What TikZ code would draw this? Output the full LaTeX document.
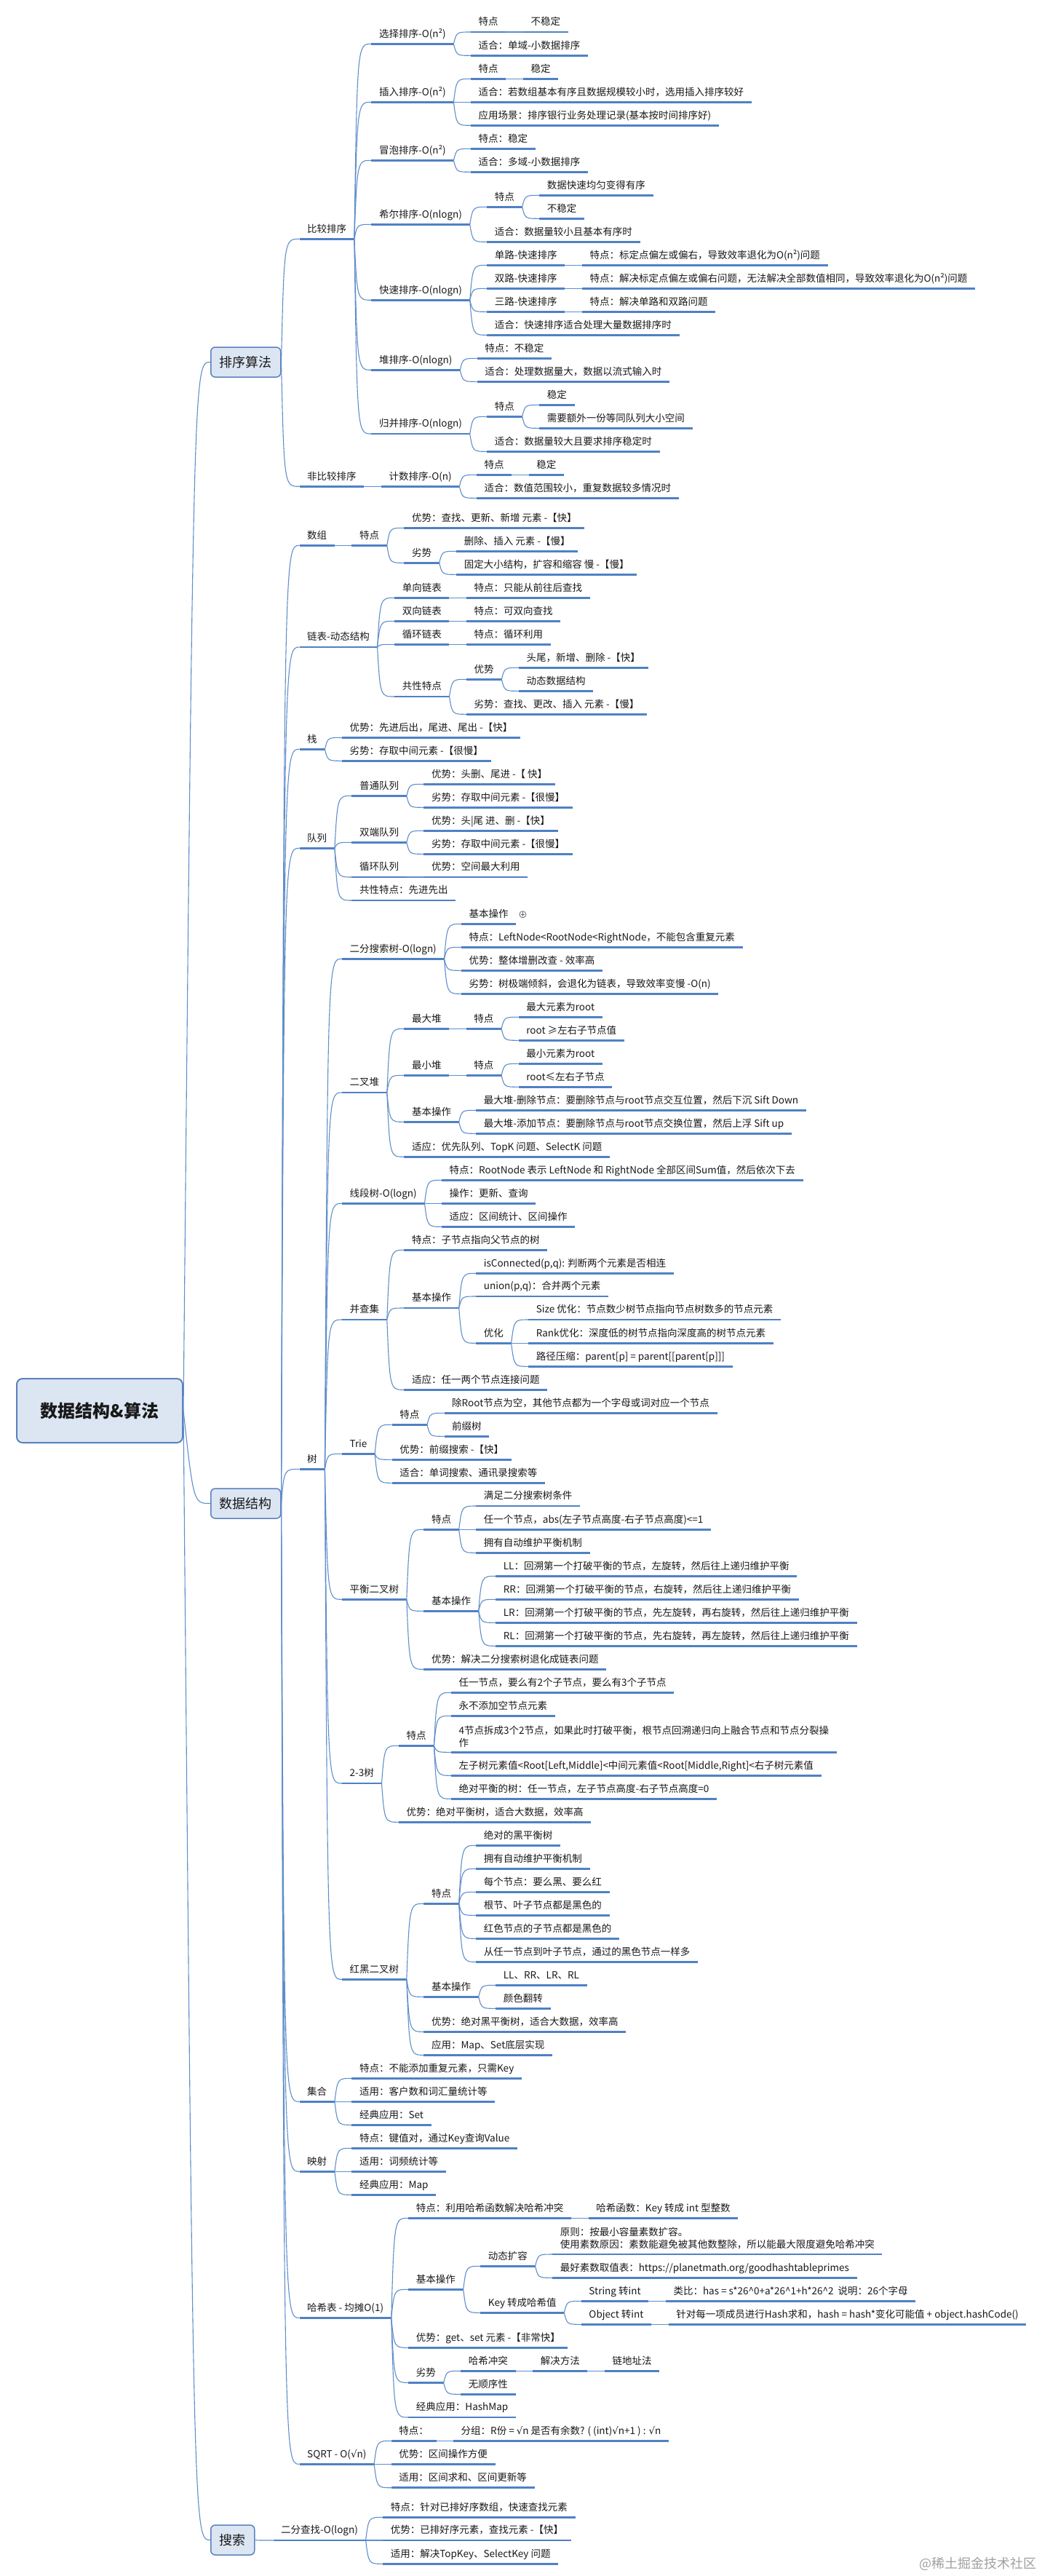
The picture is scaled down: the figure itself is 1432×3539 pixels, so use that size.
\documentclass[tikz,border=0pt]{standalone}
\usepackage{fontspec}
\setmainfont{Noto Sans CJK SC}
\newfontfamily\symf{DejaVu Sans}
\newcommand\rt{{\symf\char"221A}}
\usetikzlibrary{calc}
\definecolor{ulc}{RGB}{79,129,196}
\definecolor{cnc}{RGB}{96,142,202}
\definecolor{boxfill}{RGB}{220,230,243}
\definecolor{boxdraw}{RGB}{90,130,190}
\definecolor{txt}{RGB}{25,25,25}
% child of an underlined node: name, parent, y, text
\newcommand\N[4]{%
  \node[nd,xshift=23.5pt] (#1) at (#2.south east |- 0,#3) {#4};
  \draw[ul] (#1.south west) -- (#1.south east);
  \draw[cn] (#2.south east) .. controls ($(#2.south east |- #1.south west)+(4,0)$) .. (#1.south west);}
% two-line child
\newcommand\NN[4]{%
  \node[ndtwo,xshift=23.5pt] (#1) at (#2.south east |- 0,#3) {#4};
  \draw[ul] (#1.south west) -- (#1.south east);
  \draw[cn] (#2.south east) .. controls ($(#2.south east |- #1.south west)+(4,0)$) .. (#1.south west);}
% child of a box
\newcommand\B[4]{%
  \node[nd,xshift=25pt] (#1) at (#2.east |- 0,#3) {#4};
  \draw[ul] (#1.south west) -- (#1.south east);
  \draw[cn] (#2.east) .. controls ($(#2.east |- #1.south west)+(4,0)$) .. (#1.south west);}
\begin{document}
\begin{tikzpicture}[x=1pt,y=-1pt,
  base/.style={anchor=south west, inner xsep=10.5pt, inner ysep=6.5pt, text=txt,
    font=\fontsize{13.5}{17.5}\selectfont},
  nd/.style={base, text height=10.5pt, text depth=2.5pt},
  ndtwo/.style={base, align=left},
  ul/.style={draw=ulc, line width=2.5pt},
  cn/.style={draw=cnc, line width=1.1pt},
  l1box/.style={draw=boxdraw, fill=boxfill, line width=1.5pt, rounded corners=6pt,
    minimum height=41pt, inner xsep=12pt, text=txt, font=\fontsize{18}{20}\selectfont},
  rootbox/.style={draw=boxdraw, fill=boxfill, line width=2pt, rounded corners=8pt,
    minimum width=228pt, minimum height=88pt, text=txt, font=\fontsize{24}{28}\selectfont\bfseries},
  plusic/.style={circle, draw=gray!80!black, line width=0.8pt, minimum size=9pt, inner sep=0pt}]
\fill[white] (0,0) rectangle (1432,3539);
\useasboundingbox (0,0) rectangle (1432,3539);

% root and first level
\node[rootbox] (root) at (137,1938) {数据结构\&算法};
\node[l1box, anchor=west] (sort) at (289,497.5) {排序算法};
\node[l1box, anchor=west] (ds) at (289,2065.5) {数据结构};
\node[l1box, anchor=west] (search) at (289,3489.5) {搜索};
\draw[cn] (root.east) .. controls ($(root.east |- sort.west)+(14,0)$) .. (sort.west);
\draw[cn] (root.east) .. controls ($(root.east |- ds.west)+(14,0)$) .. (ds.west);
\draw[cn] (root.east) .. controls ($(root.east |- search.west)+(14,0)$) .. (search.west);

% ===== 排序算法 =====
\B{s1}{sort}{328.3}{比较排序}
\N{s11}{s1}{60.3}{选择排序-O(n²)}
\N{s111}{s11}{44}{特点}
\N{s1111}{s111}{44}{不稳定}
\N{s112}{s11}{76.3}{适合：单域-小数据排序}
\N{s12}{s1}{140.3}{插入排序-O(n²)}
\N{s121}{s12}{108.3}{特点}
\N{s1211}{s121}{108.3}{稳定}
\N{s122}{s12}{140.3}{适合：若数组基本有序且数据规模较小时，选用插入排序较好}
\N{s123}{s12}{172.3}{应用场景：排序银行业务处理记录(基本按时间排序好)}
\N{s13}{s1}{220.3}{冒泡排序-O(n²)}
\N{s131}{s13}{204.3}{特点：稳定}
\N{s132}{s13}{236.3}{适合：多域-小数据排序}
\N{s14}{s1}{308.3}{希尔排序-O(nlogn)}
\N{s141}{s14}{284.3}{特点}
\N{s1411}{s141}{268.3}{数据快速均匀变得有序}
\N{s1412}{s141}{300.3}{不稳定}
\N{s142}{s14}{332.3}{适合：数据量较小且基本有序时}
\N{s15}{s1}{412.3}{快速排序-O(nlogn)}
\N{s151}{s15}{364.3}{单路-快速排序}
\N{s1511}{s151}{364.3}{特点：标定点偏左或偏右，导致效率退化为O(n²)问题}
\N{s152}{s15}{396.3}{双路-快速排序}
\N{s1521}{s152}{396.3}{特点：解决标定点偏左或偏右问题，无法解决全部数值相同，导致效率退化为O(n²)问题}
\N{s153}{s15}{428.3}{三路-快速排序}
\N{s1531}{s153}{428.3}{特点：解决单路和双路问题}
\N{s154}{s15}{460.3}{适合：快速排序适合处理大量数据排序时}
\N{s16}{s1}{508.3}{堆排序-O(nlogn)}
\N{s161}{s16}{492.3}{特点：不稳定}
\N{s162}{s16}{524.3}{适合：处理数据量大，数据以流式输入时}
\N{s17}{s1}{596}{归并排序-O(nlogn)}
\N{s171}{s17}{572.3}{特点}
\N{s1711}{s171}{556.3}{稳定}
\N{s1712}{s171}{588.3}{需要额外一份等同队列大小空间}
\N{s172}{s17}{620.3}{适合：数据量较大且要求排序稳定时}
\B{s2}{sort}{668.3}{非比较排序}
\N{s21}{s2}{668.3}{计数排序-O(n)}
\N{s211}{s21}{652.3}{特点}
\N{s2111}{s211}{652.3}{稳定}
\N{s212}{s21}{684.3}{适合：数值范围较小，重复数据较多情况时}

% ===== 数据结构 =====
\B{d1}{ds}{749.3}{数组}
\N{d11}{d1}{749.3}{特点}
\N{d111}{d11}{725.3}{优势：查找、更新、新增 元素 -【快】}
\N{d112}{d11}{773.3}{劣势}
\N{d1121}{d112}{757.3}{删除、插入 元素 -【慢】}
\N{d1122}{d112}{789.3}{固定大小结构，扩容和缩容 慢 -【慢】}
\B{d2}{ds}{889}{链表-动态结构}
\N{d21}{d2}{821.3}{单向链表}
\N{d211}{d21}{821.3}{特点：只能从前往后查找}
\N{d22}{d2}{853.3}{双向链表}
\N{d221}{d22}{853.3}{特点：可双向查找}
\N{d23}{d2}{885.3}{循环链表}
\N{d231}{d23}{885.3}{特点：循环利用}
\N{d24}{d2}{957}{共性特点}
\N{d241}{d24}{933.3}{优势}
\N{d2411}{d241}{917.3}{头尾，新增、删除 -【快】}
\N{d2412}{d241}{949.3}{动态数据结构}
\N{d242}{d24}{981.3}{劣势：查找、更改、插入 元素 -【慢】}
\B{d3}{ds}{1029.3}{栈}
\N{d31}{d3}{1013.3}{优势：先进后出，尾进、尾出 -【快】}
\N{d32}{d3}{1045.3}{劣势：存取中间元素 -【很慢】}
\B{d4}{ds}{1165.3}{队列}
\N{d41}{d4}{1093.3}{普通队列}
\N{d411}{d41}{1077.3}{优势：头删、尾进 -【 快】}
\N{d412}{d41}{1109.3}{劣势：存取中间元素 -【很慢】}
\N{d42}{d4}{1157.3}{双端队列}
\N{d421}{d42}{1141.3}{优势：头|尾 进、删 -【快】}
\N{d422}{d42}{1173.3}{劣势：存取中间元素 -【很慢】}
\N{d43}{d4}{1205}{循环队列}
\N{d431}{d43}{1205}{优势：空间最大利用}
\N{d44}{d4}{1237}{共性特点：先进先出}

\B{d5}{ds}{2018.3}{树}
\N{t1}{d5}{1317.3}{二分搜索树-O(logn)}
\N{t11}{t1}{1269.3}{基本操作}
\node[plusic] (t11p) at ($(t11.south east)+(9,-13)$) {};
\draw[gray!80!black, line width=0.8pt] ([xshift=2pt]t11p.west) -- ([xshift=-2pt]t11p.east)
  ([yshift=-2pt]t11p.north) -- ([yshift=2pt]t11p.south);
\N{t12}{t1}{1301.3}{特点：LeftNode<RootNode<RightNode，不能包含重复元素}
\N{t13}{t1}{1333.3}{优势：整体增删改查 - 效率高}
\N{t14}{t1}{1365.3}{劣势：树极端倾斜，会退化为链表，导致效率变慢 -O(n)}
\N{t2}{d5}{1501}{二叉堆}
\N{t21}{t2}{1413.3}{最大堆}
\N{t211}{t21}{1413.3}{特点}
\N{t2111}{t211}{1397.3}{最大元素为root}
\N{t2112}{t211}{1429.3}{root ≥左右子节点值}
\N{t22}{t2}{1477.3}{最小堆}
\N{t221}{t22}{1477.3}{特点}
\N{t2211}{t221}{1461.3}{最小元素为root}
\N{t2212}{t221}{1493.3}{root≤左右子节点}
\N{t23}{t2}{1541.3}{基本操作}
\N{t231}{t23}{1525.3}{最大堆-删除节点：要删除节点与root节点交互位置，然后下沉 Sift Down}
\N{t232}{t23}{1557.3}{最大堆-添加节点：要删除节点与root节点交换位置，然后上浮 Sift up}
\N{t24}{t2}{1589.3}{适应：优先队列、TopK 问题、SelectK 问题}
\N{t3}{d5}{1653.3}{线段树-O(logn)}
\N{t31}{t3}{1621.3}{特点：RootNode 表示 LeftNode 和 RightNode 全部区间Sum值，然后依次下去}
\N{t32}{t3}{1653.3}{操作：更新、查询}
\N{t33}{t3}{1685.3}{适应：区间统计、区间操作}
\N{t4}{d5}{1813}{并查集}
\N{t41}{t4}{1717.3}{特点：子节点指向父节点的树}
\N{t42}{t4}{1797}{基本操作}
\N{t421}{t42}{1749.3}{isConnected(p,q): 判断两个元素是否相连}
\N{t422}{t42}{1781}{union(p,q)：合并两个元素}
\N{t423}{t42}{1845.3}{优化}
\N{t4231}{t423}{1813}{Size 优化：节点数少树节点指向节点树数多的节点元素}
\N{t4232}{t423}{1845.3}{Rank优化：深度低的树节点指向深度高的树节点元素}
\N{t4233}{t423}{1877.3}{路径压缩：parent[p] = parent[[parent[p]]]}
\N{t43}{t4}{1909.3}{适应：任一两个节点连接问题}
\N{t5}{d5}{1997.3}{Trie}
\N{t51}{t5}{1957.3}{特点}
\N{t511}{t51}{1941.3}{除Root节点为空，其他节点都为一个字母或词对应一个节点}
\N{t512}{t51}{1973.3}{前缀树}
\N{t52}{t5}{2005.3}{优势：前缀搜索 -【快】}
\N{t53}{t5}{2037.3}{适合：单词搜索、通讯录搜索等}
\N{t6}{d5}{2197.3}{平衡二叉树}
\N{t61}{t6}{2101.3}{特点}
\N{t611}{t61}{2069}{满足二分搜索树条件}
\N{t612}{t61}{2101.3}{任一个节点，abs(左子节点高度-右子节点高度)<=1}
\N{t613}{t61}{2133.3}{拥有自动维护平衡机制}
\N{t62}{t6}{2213.3}{基本操作}
\N{t621}{t62}{2165.3}{LL：回溯第一个打破平衡的节点，左旋转，然后往上递归维护平衡}
\N{t622}{t62}{2197.3}{RR：回溯第一个打破平衡的节点，右旋转，然后往上递归维护平衡}
\N{t623}{t62}{2229.3}{LR：回溯第一个打破平衡的节点，先左旋转，再右旋转，然后往上递归维护平衡}
\N{t624}{t62}{2261.3}{RL：回溯第一个打破平衡的节点，先右旋转，再左旋转，然后往上递归维护平衡}
\N{t63}{t6}{2293.3}{优势：解决二分搜索树退化成链表问题}
\N{t7}{d5}{2450}{2-3树}
\N{t71}{t7}{2398.3}{特点}
\N{t711}{t71}{2325.3}{任一节点，要么有2个子节点，要么有3个子节点}
\N{t712}{t71}{2357.3}{永不添加空节点元素}
\NN{t713}{t71}{2407.3}{4节点拆成3个2节点，如果此时打破平衡，根节点回溯递归向上融合节点和节点分裂操\\作}
\N{t714}{t71}{2439.3}{左子树元素值<Root[Left,Middle]<中间元素值<Root[Middle,Right]<右子树元素值}
\N{t715}{t71}{2471.3}{绝对平衡的树：任一节点，左子节点高度-右子节点高度=0}
\N{t72}{t7}{2503.3}{优势：绝对平衡树，适合大数据，效率高}
\N{t8}{d5}{2719.3}{红黑二叉树}
\N{t81}{t8}{2615.3}{特点}
\N{t811}{t81}{2535.3}{绝对的黑平衡树}
\N{t812}{t81}{2567.3}{拥有自动维护平衡机制}
\N{t813}{t81}{2599.3}{每个节点：要么黑、要么红}
\N{t814}{t81}{2631.3}{根节、叶子节点都是黑色的}
\N{t815}{t81}{2663.3}{红色节点的子节点都是黑色的}
\N{t816}{t81}{2695.3}{从任一节点到叶子节点，通过的黑色节点一样多}
\N{t82}{t8}{2743.3}{基本操作}
\N{t821}{t82}{2727.3}{LL、RR、LR、RL}
\N{t822}{t82}{2759.3}{颜色翻转}
\N{t83}{t8}{2791.3}{优势：绝对黑平衡树，适合大数据，效率高}
\N{t84}{t8}{2823.3}{应用：Map、Set底层实现}

\B{d6}{ds}{2887.3}{集合}
\N{d61}{d6}{2855.3}{特点：不能添加重复元素，只需Key}
\N{d62}{d6}{2887.3}{适用：客户数和词汇量统计等}
\N{d63}{d6}{2919.3}{经典应用：Set}
\B{d7}{ds}{2983.3}{映射}
\N{d71}{d7}{2951.3}{特点：键值对，通过Key查询Value}
\N{d72}{d7}{2983.3}{适用：词频统计等}
\N{d73}{d7}{3015.3}{经典应用：Map}
\B{d8}{ds}{3184.3}{哈希表 - 均摊O(1)}
\N{h1}{d8}{3047.3}{特点：利用哈希函数解决哈希冲突}
\N{h11}{h1}{3047.3}{哈希函数：Key 转成 int 型整数}
\N{h2}{d8}{3145.3}{基本操作}
\N{h21}{h2}{3113.3}{动态扩容}
\NN{h211}{h21}{3097}{原则：按最小容量素数扩容。\\使用素数原因：素数能避免被其他数整除，所以能最大限度避免哈希冲突}
\N{h212}{h21}{3129.3}{最好素数取值表：https://planetmath.org/goodhashtableprimes}
\N{h22}{h2}{3177.3}{Key 转成哈希值}
\N{h221}{h22}{3161.3}{String 转int}
\N{h2211}{h221}{3161.3}{类比：has = s*26\textasciicircum 0+a*26\textasciicircum 1+h*26\textasciicircum 2\ \ 说明：26个字母}
\N{h222}{h22}{3193.3}{Object 转int}
\N{h2221}{h222}{3193.3}{针对每一项成员进行Hash求和，hash = hash*变化可能值 + object.hashCode()}
\N{h3}{d8}{3225.3}{优势：get、set 元素 -【非常快】}
\N{h4}{d8}{3273.3}{劣势}
\N{h41}{h4}{3257.3}{哈希冲突}
\N{h411}{h41}{3257.3}{解决方法}
\N{h4111}{h411}{3257.3}{链地址法}
\N{h42}{h4}{3289.3}{无顺序性}
\N{h5}{d8}{3321}{经典应用：HashMap}
\B{d9}{ds}{3385.3}{SQRT - O(\rt n)}
\N{q1}{d9}{3353.3}{特点：}
\N{q11}{q1}{3353.3}{分组：R份 = \rt n 是否有余数? ( (int)\rt n+1 ) : \rt n}
\N{q2}{d9}{3385.3}{优势：区间操作方便}
\N{q3}{d9}{3417.7}{适用：区间求和、区间更新等}

% ===== 搜索 =====
\B{b1}{search}{3490}{二分查找-O(logn)}
\N{b11}{b1}{3458.3}{特点：针对已排好序数组，快速查找元素}
\N{b12}{b1}{3490}{优势：已排好序元素，查找元素 -【快】}
\N{b13}{b1}{3522.3}{适用：解决TopKey、SelectKey 问题}

\node[anchor=east, text=gray!75, font=\fontsize{18}{20}\selectfont] (wm) at (1428,3522) {@稀土掘金技术社区};
\end{tikzpicture}
\end{document}
